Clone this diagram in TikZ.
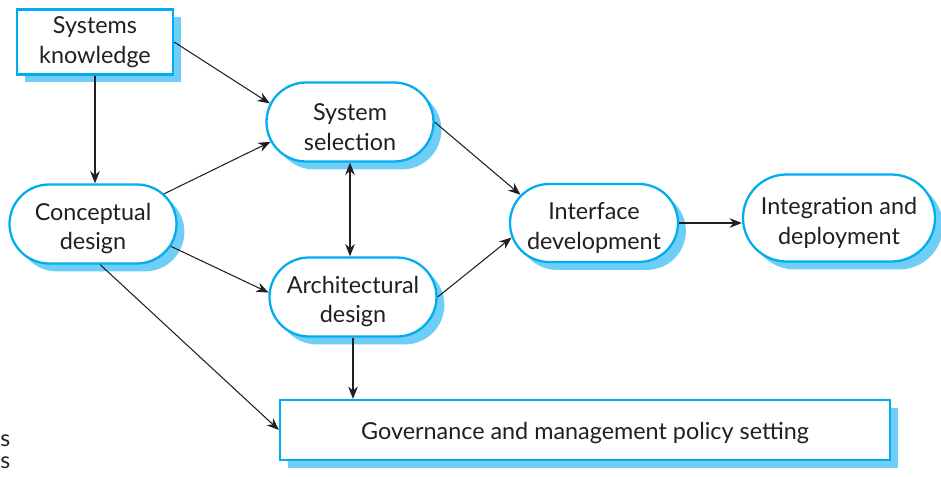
\documentclass[tikz,border=0pt]{standalone}
\usepackage{fontspec}
\setmainfont{Lato}
\usetikzlibrary{shapes.misc,shadows,arrows.meta}

\definecolor{boxcyan}{RGB}{0,174,239}
\definecolor{shadecyan}{RGB}{110,206,245}
\definecolor{inkgray}{RGB}{35,31,32}

% strut pushing the first line down a little
\newcommand{\topstrut}{\rule{0pt}{15pt}}

\tikzset{
  shade/.style={drop shadow={shadow xshift=4.5pt, shadow yshift=-4.5pt, opacity=1, fill=shadecyan}},
  stage/.style={rounded rectangle, draw=boxcyan, line width=1.3pt, fill=white, shade,
    align=center, text=inkgray, font=\fontsize{13.3}{17}\selectfont,
    minimum width=3.34cm, minimum height=1.58cm, inner sep=0pt},
  sourcebox/.style={rectangle, draw=boxcyan, line width=1.3pt, fill=white, shade,
    align=center, text=inkgray, font=\fontsize{13.3}{17}\selectfont, inner sep=0pt},
  flow/.style={-{Stealth[length=7pt,width=5.5pt]}, line width=0.6pt, inkgray},
}

\begin{document}
\begin{tikzpicture}
    \useasboundingbox (0,0) rectangle (18.82,-9.52);

    % Knowledge input (square box top left)
    \node[sourcebox, minimum width=3.12cm, minimum height=1.30cm] (know) at (1.90,-0.84) {Systems\\knowledge};

    % Design stages
    \node[stage] (select) at (7.00,-2.44) {\topstrut System\\selection};
    \node[stage] (concept) at (1.86,-4.48) {\topstrut Conceptual\\design};
    \node[stage] (arch) at (7.06,-5.94) {\topstrut Architectural\\design};
    \node[stage, minimum width=3.36cm, minimum height=1.56cm] (iface) at (11.88,-4.46) {\topstrut Interface\\development};
    \node[stage, minimum width=3.84cm, minimum height=1.74cm] (deploy) at (16.78,-4.36) {\topstrut Integration and\\deployment};

    % Governance bar at the bottom
    \node[sourcebox, minimum width=12.20cm, minimum height=1.20cm] (gov) at (11.70,-8.60) {\rule{0pt}{13pt}Governance and management policy setting};

    % Cut-off letters at the left edge
    \node[text=inkgray, font=\fontsize{13}{17}\selectfont, anchor=west, inner sep=0pt] (cutA) at (0,-8.82) {s};
    \node[text=inkgray, font=\fontsize{13}{17}\selectfont, anchor=west, inner sep=0pt] (cutB) at (0,-9.26) {s};

    % Arrows
    \draw[flow] (know.east) -- (select.167);
    \draw[flow] (know.south) -- (know.south |- concept.north);
    \draw[flow] (concept.23) -- (select.194);
    \draw[flow] (concept.-16) -- (arch.177);
    \draw[flow] (concept.-80) -- (gov.west);
    \draw[flow, {Stealth[length=7pt,width=5.5pt]}-{Stealth[length=7pt,width=5.5pt]}] (select.south) -- (select.south |- arch.north);
    \draw[flow] (select.east) -- (iface.159);
    \draw[flow] (arch.east) -- (iface.190);
    \draw[flow] (arch.south) -- (arch.south |- gov.north);
    \draw[flow] (iface.east) -- (iface.east -| deploy.west);
\end{tikzpicture}
\end{document}
